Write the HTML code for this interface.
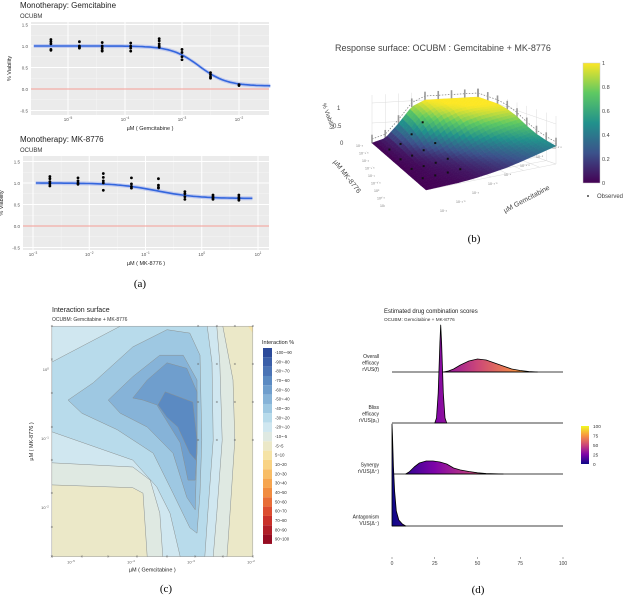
<!DOCTYPE html>
<html><head><meta charset="utf-8"><style>
html,body{margin:0;padding:0;background:#fff;}
svg{display:block;font-family:"Liberation Sans",sans-serif;}
.cap{font-family:"Liberation Serif",serif;font-size:11px;}
</style></head><body>
<svg id="fig" width="632" height="597" viewBox="0 0 632 597">
<defs>
<linearGradient id="viridisBar" x1="0" y1="1" x2="0" y2="0">
<stop offset="0" stop-color="#440154"/><stop offset="0.25" stop-color="#3b528b"/><stop offset="0.5" stop-color="#21918c"/><stop offset="0.75" stop-color="#5ec962"/><stop offset="1" stop-color="#fde725"/>
</linearGradient>
<linearGradient id="plasmaBar" x1="0" y1="1" x2="0" y2="0">
<stop offset="0" stop-color="#0d0887"/><stop offset="0.25" stop-color="#7e03a8"/><stop offset="0.5" stop-color="#cc4778"/><stop offset="0.75" stop-color="#f89540"/><stop offset="1" stop-color="#f0f921"/>
</linearGradient>
<linearGradient id="plasmaX" gradientUnits="userSpaceOnUse" x1="392" y1="0" x2="563" y2="0">
<stop offset="0" stop-color="#0d0887"/><stop offset="0.25" stop-color="#7e03a8"/><stop offset="0.5" stop-color="#cc4778"/><stop offset="0.75" stop-color="#f89540"/><stop offset="1" stop-color="#f0f921"/>
</linearGradient>
</defs>
</svg>
<script>
// ---------- Panel (a) data ----------
const gemDoseLog=[-5.3,-4.8,-4.4,-3.9,-3.4,-3.0,-2.5,-2.0];
const gemViab=[[1.15,1.1,1.05,0.92,0.9],[1.1,1.0,0.97,0.95],[1.08,1.0,0.95,0.9,0.88],[1.07,1.0,0.95,0.88],[1.17,1.12,1.05,1.0,0.97],[0.92,0.85,0.75,0.68],[0.38,0.33,0.28,0.25],[0.1,0.08]];
const gemFit=[1.0,0.07,-2.7,1.8];
const gemTicks=[-5,-4,-3,-2];
const mkDoseLog=[-2.7,-2.2,-1.75,-1.25,-0.77,-0.3,0.2,0.66];
const mkViab=[[1.15,1.1,1.03,0.98,0.93],[1.12,1.05,1.0,0.97],[1.22,1.13,1.05,1.0,0.83],[1.12,0.98,0.92,0.88],[1.1,0.95,0.9,0.88],[0.8,0.75,0.68,0.62],[0.72,0.68,0.65,0.62],[0.72,0.67,0.63,0.6]];
const mkFit=[1.0,0.64,-0.8,1.2];
const mkTicks=[-3,-2,-1,0,1];
const yTicksA=[-0.5,0,0.5,1.0,1.5];
const yTickLabelsA=["-0.5","0.0","0.5","1.0","1.5"];
// ---------- Panel (b) data: surface grid (rows: MK high->low, cols: gem high->low) ----------
const surfRow0=[0,0.01,0.02,0.05,0.1,0.16,0.25,0.35,0.45];
const surfRow1=[0,0.01,0.03,0.06,0.12,0.2,0.3,0.4,0.5];
const surfRow2=[0,0.02,0.04,0.08,0.16,0.26,0.38,0.5,0.58];
const surfRow3=[0,0.02,0.06,0.12,0.24,0.38,0.52,0.62,0.7];
const surfRow4=[0,0.03,0.1,0.2,0.38,0.58,0.72,0.8,0.85];
const surfRow5=[0,0.05,0.18,0.38,0.62,0.82,0.9,0.94,0.95];
const surfRow6=[0,0.07,0.3,0.62,0.85,0.96,1,1,1];
const surfRow7=[0,0.09,0.4,0.78,0.95,1,1,1,1];
const surfRow8=[0,0.1,0.45,0.85,1,1,1,1,1];
const surfGrid=[surfRow0,surfRow1,surfRow2,surfRow3,surfRow4,surfRow5,surfRow6,surfRow7,surfRow8];
const cbTicks=[0,0.2,0.4,0.6,0.8,1];
// ---------- Panel (c) data ----------
const contourLevels=["-100~-90","-90~-80","-80~-70","-70~-60","-60~-50","-50~-40","-40~-30","-30~-20","-20~-10","-10~-5","-5~5","5~10","10~20","20~30","30~40","40~50","50~60","60~70","70~80","80~90","90~100"];
const contourColors=["#2c4a9a","#3a5ea8","#4a73b5","#5b8ac2","#6f9ecd","#86b3d8","#9ec8e2","#b8dbeb","#d0e7f0","#dfe9e2","#ebe8c8","#f5e3a6","#f9d384","#f8bd66","#f6a54f","#f18c40","#e86d37","#dc4d30","#c9312a","#b01e27","#960c22"];
const interactionPolys=[
 {lvl:9,pts:[[-5.32,0.62],[-2.47,0.62],[-2.3,-0.16],[-2.27,-1.03],[-2.35,-2.09],[-2.4,-2.72],[-3.73,-2.72],[-3.8,-1.8],[-3.97,-1.72],[-5.32,-1.68]]},
 {lvl:8,pts:[[-5.32,0.62],[-2.57,0.62],[-2.52,0.09],[-2.48,-1.03],[-2.57,-2.09],[-2.63,-2.72],[-3.47,-2.72],[-3.52,-2.09],[-3.68,-1.61],[-3.97,-1.42],[-5.32,-1.36]]},
 {lvl:7,pts:[[-5.32,0.1],[-4.18,0.62],[-2.73,0.62],[-2.65,0.09],[-2.63,-1.03],[-2.72,-2.09],[-2.77,-2.72],[-3.18,-2.72],[-3.35,-2.09],[-3.57,-1.71],[-3.97,-1.32],[-5.32,-0.91]]},
 {lvl:6,pts:[[-5.05,-0.45],[-4.63,-0.2],[-3.97,0.32],[-3.4,0.57],[-3.02,0.52],[-2.85,0.2],[-2.82,-1.03],[-2.85,-1.8],[-2.9,-2.38],[-3.02,-2.3],[-3.3,-1.8],[-3.63,-1.22],[-4.23,-0.88],[-4.82,-0.64]]},
 {lvl:5,pts:[[-4.38,-0.45],[-3.97,-0.11],[-3.52,0.2],[-3.13,0.2],[-2.9,-0.16],[-2.9,-1.13],[-2.93,-2.04],[-3.07,-1.86],[-3.3,-1.22],[-3.73,-0.84],[-4.18,-0.64]]},
 {lvl:4,pts:[[-3.97,-0.42],[-3.73,-0.16],[-3.4,0.09],[-3.07,0.01],[-2.9,-0.33],[-2.9,-1.22],[-2.93,-1.61],[-3.05,-1.61],[-3.18,-1.07],[-3.57,-0.52],[-3.8,-0.45]]},
 {lvl:3,pts:[[-3.55,-0.52],[-3.43,-0.33],[-2.97,-0.48],[-2.9,-1.03],[-2.92,-1.32],[-3.02,-1.22],[-3.22,-0.84],[-3.4,-0.7]]}
];
const markerGem=[-2.88,-2.57,-2.27,-1.97];
const markerMk=[0.62,0.07,-0.48,-1.03];
const leftColMk=[0.62,0.14,-0.35,-0.84,-1.32,-1.8,-2.29,-2.72];
const bottomRowGem=[-5.32,-4.82,-4.38,-3.9,-3.4,-2.93,-2.47,-1.97];
const cXTicks=[-5,-4,-3,-2];
const cYTicks=[0,-1,-2];
// ---------- Panel (d) data ----------
const ridgeNames=["Overall|efficacy|rVUS(f)","Bliss|efficacy|rVUS(p\u2080)","Synergy|rVUS(\u0394\u207a)","Antagonism|VUS(\u0394\u207b)"];
const overallX=[30,33,36,40,45,50,55,60,65,70,75,80,85];
const overallD=[0,0.01,0.03,0.07,0.11,0.13,0.12,0.09,0.06,0.03,0.015,0.005,0];
const blissX=[25,26,27,28,28.5,29,30,31,32];
const blissD=[0,0.05,0.3,0.8,0.98,0.8,0.3,0.05,0];
const synergyX=[8,10,13,16,20,24,28,32,36,40,45,50,55,60,65];
const synergyD=[0,0.02,0.07,0.11,0.13,0.13,0.12,0.1,0.06,0.04,0.025,0.012,0.005,0.002,0];
const antagX=[0,0.3,0.8,1.5,2.5,4,6,8];
const antagD=[1.02,0.9,0.6,0.35,0.15,0.06,0.02,0];
const dTicks=[0,25,50,75,100];
const plasmaTicks=[0,25,50,75,100];

const NS='http://www.w3.org/2000/svg';
const svg=document.getElementById('fig');
function mk(parent,tag,attrs,text){const e=document.createElementNS(NS,tag);for(const k in attrs)e.setAttribute(k,attrs[k]);if(text!==undefined)e.textContent=text;parent.appendChild(e);return e;}
function grp(name){const g=mk(svg,'g',{});


return g;}
function sup(parent,x,y,base,exp,size,anchor,fill){const t=mk(parent,'text',{x:x,y:y,'font-size':size,'text-anchor':anchor||'middle',fill:fill||'#555'});mk(t,'tspan',{},base);mk(t,'tspan',{'font-size':size*0.7,dy:-size*0.4},exp);return t;}
function hill(p,l){return p[1]+(p[0]-p[1])/(1+Math.pow(10,p[3]*(l-p[2])));}

// ---------- Panel (a) ----------
function doseResponse(name,title,rect,xs,ys,doses,viab,fit,ticks,xTitle,xMin,xMax){
 const g=grp(name);
 const t1=mk(g,'text',{x:20,y:rect.t-14,'font-size':8,fill:'#222'},title);
 
 
 mk(g,'text',{x:20,y:rect.t-4,'font-size':6,fill:'#333'},'OCUBM');
 const bg=mk(g,'rect',{x:rect.l,y:rect.t,width:rect.r-rect.l,height:rect.b-rect.t,fill:'#ebebeb'});
 
 
 for(let i=0;i<yTicksA.length-1;i++){const v=(yTicksA[i]+yTicksA[i+1])/2;mk(g,'line',{x1:rect.l,x2:rect.r,y1:ys(v),y2:ys(v),stroke:'#f6f6f6','stroke-width':0.5});}
 for(let i=0;i<ticks.length-1;i++){const v=(ticks[i]+ticks[i+1])/2;mk(g,'line',{x1:xs(v),x2:xs(v),y1:rect.t,y2:rect.b,stroke:'#f6f6f6','stroke-width':0.5});}
 yTicksA.forEach((v,i)=>{mk(g,'line',{x1:rect.l,x2:rect.r,y1:ys(v),y2:ys(v),stroke:'#fff','stroke-width':1});
  mk(g,'text',{x:rect.l-3,y:ys(v)+2,'font-size':4.5,'text-anchor':'end',fill:'#555'},yTickLabelsA[i]);});
 ticks.forEach(v=>{mk(g,'line',{x1:xs(v),x2:xs(v),y1:rect.t,y2:rect.b,stroke:'#fff','stroke-width':1});
  sup(g,xs(v),rect.b+6,'10',String(v).replace('-','\u2212'),4.5);});
 const zl=mk(g,'line',{x1:rect.l,x2:rect.r,y1:ys(0),y2:ys(0),stroke:'#f07b72','stroke-width':0.8});
 
 
 const pts=[];
 for(let l=xMin;l<=xMax+1e-9;l+=0.05){pts.push([xs(l),ys(hill(fit,l))]);}
 const d='M'+pts.map(p=>p[0].toFixed(1)+','+p[1].toFixed(1)).join('L');
 const bd='M'+pts.map(p=>p[0].toFixed(1)+','+(p[1]-2).toFixed(1)).join('L')+'L'+pts.slice().reverse().map(p=>p[0].toFixed(1)+','+(p[1]+2).toFixed(1)).join('L')+'Z';
 mk(g,'path',{d:bd,fill:'#a9b6ee',opacity:0.6});
 const c=mk(g,'path',{d:d,fill:'none',stroke:'#3366dd','stroke-width':1.6});
 
 
 doses.forEach((dl,i)=>viab[i].forEach(v=>{const p=mk(g,'circle',{cx:xs(dl),cy:ys(v),r:1.4,fill:'#000'});
  
  }));
 const yt=mk(g,'text',{x:0,y:0,'font-size':5.5,fill:'#222','text-anchor':'middle',transform:`translate(${rect.l-20},${(rect.t+rect.b)/2}) rotate(-90)`},'% Viability');
 
 
 const xt=mk(g,'text',{x:(rect.l+rect.r)/2,y:rect.b+15,'font-size':5.5,fill:'#222','text-anchor':'middle'},xTitle);
 
 
}
doseResponse('gemcitabine-monotherapy','Monotherapy: Gemcitabine',{l:31,r:269,t:22,b:115},l=>68+(l+5)*57,v=>89-v*43,gemDoseLog,gemViab,gemFit,gemTicks,'\u00b5M  ( Gemcitabine )',-5.6,-1.45);
doseResponse('mk8776-monotherapy','Monotherapy: MK-8776',{l:23,r:269,t:156,b:250},l=>33+(l+3)*56.25,v=>226-v*43,mkDoseLog,mkViab,mkFit,mkTicks,'\u00b5M  ( MK-8776 )',-2.95,0.9);
mk(svg,'text',{x:140,y:287,'text-anchor':'middle',class:'cap'},'(a)');

// ---------- Panel (b) ----------
(function(){
 const g=grp('response-surface-3d');
 const tt=mk(g,'text',{x:335,y:51,'font-size':9,fill:'#444'},'Response surface: OCUBM : Gemcitabine + MK-8776');
 
 
 const F=[426,190],L=[372,143],R=[556,164],B=[478,137],H=40;
 function P(s,t,z){const x=(1-s)*(1-t)*F[0]+s*(1-t)*L[0]+(1-s)*t*R[0]+s*t*B[0];const y=(1-s)*(1-t)*F[1]+s*(1-t)*L[1]+(1-s)*t*R[1]+s*t*B[1];return [x,y-z*H];}
 const n=surfGrid.length-1;
 function val(s,t){s=Math.max(0,Math.min(1,s));t=Math.max(0,Math.min(1,t));const fs=s*n,ft=t*n;const i=Math.max(0,Math.min(Math.floor(fs),n-1)),j=Math.max(0,Math.min(Math.floor(ft),n-1));const a=fs-i,b=ft-j;
  return surfGrid[i][j]*(1-a)*(1-b)+surfGrid[i+1][j]*a*(1-b)+surfGrid[i][j+1]*(1-a)*b+surfGrid[i+1][j+1]*a*b;}
 function vir(v){const st=[[68,1,84],[59,82,139],[33,145,140],[94,201,98],[253,231,37]];const f=Math.max(0,Math.min(1,v))*4;const i=Math.min(Math.floor(f),3);const r=f-i;const c=st[i].map((a,k)=>Math.round(a+(st[i+1][k]-a)*r));return `rgb(${c})`;}
 const gl={stroke:'#dcdcdc','stroke-width':0.5};
 for(let z=0;z<=1;z+=0.5){let a=P(1,0,z),b=P(1,1,z),c=P(0,1,z);mk(g,'polyline',Object.assign({points:`${a} ${b} ${c}`,fill:'none'},gl));}
 for(let k=0;k<=8;k++){const u=k/8;let a=P(1,u,0),b=P(1,u,1.2);mk(g,'line',Object.assign({x1:a[0],y1:a[1],x2:b[0],y2:b[1]},gl));a=P(u,1,0);b=P(u,1,1.2);mk(g,'line',Object.assign({x1:a[0],y1:a[1],x2:b[0],y2:b[1]},gl));
  a=P(u,0,0);b=P(u,1,0);mk(g,'line',Object.assign({x1:a[0],y1:a[1],x2:b[0],y2:b[1]},gl));a=P(0,u,0);b=P(1,u,0);mk(g,'line',Object.assign({x1:a[0],y1:a[1],x2:b[0],y2:b[1]},gl));}
 let dl=[];for(let k=0;k<=40;k++){const t=k/40;dl.push(P(1,t,val(1,t)+0.1).join(','));}
 mk(g,'polyline',{points:dl.join(' '),fill:'none',stroke:'#777','stroke-width':0.7,'stroke-dasharray':'1.5,1.5'});
 dl=[];for(let k=40;k>=0;k--){const s=k/40;dl.push(P(s,1,val(s,1)+0.1).join(','));}
 mk(g,'polyline',{points:dl.join(' '),fill:'none',stroke:'#777','stroke-width':0.7,'stroke-dasharray':'1.5,1.5'});
 for(let k=0;k<=n;k++){const t=k/n;for(let j=0;j<3;j++){const p=P(1,t,val(1,t)+0.1+0.07*(j-1));mk(g,'rect',{x:p[0]-0.8,y:p[1]-1.5,width:1.6,height:3,fill:'#999'});}
  const s=k/n;for(let j=0;j<3;j++){const p=P(s,1,val(s,1)+0.1+0.07*(j-1));mk(g,'rect',{x:p[0]-0.8,y:p[1]-1.5,width:1.6,height:3,fill:'#999'});}}
 const N=28,quads=[];
 for(let i=0;i<N;i++)for(let j=0;j<N;j++){const s0=i/N,s1=(i+1)/N,t0=j/N,t1=(j+1)/N;quads.push({s0,s1,t0,t1,d:s0+t0});}
 quads.sort((a,b)=>b.d-a.d);
 const sg=mk(g,'g',{});
 
 
 quads.forEach(q=>{const c=[[q.s0,q.t0],[q.s1,q.t0],[q.s1,q.t1],[q.s0,q.t1]];const pts=c.map(([s,t])=>P(s,t,val(s,t)).map(v=>v.toFixed(1)).join(',')).join(' ');const v=val((q.s0+q.s1)/2,(q.t0+q.t1)/2);mk(sg,'polygon',{points:pts,fill:vir(v),stroke:vir(v),'stroke-width':0.4});});
 for(let i=1;i<=4;i++)for(let j=0;j<4;j++){const s=i*0.2,t=0.06+j*0.1;const p=P(s,t,val(s,t)+0.02);const c=mk(g,'rect',{x:p[0]-1,y:p[1]-1,width:2,height:2,fill:'#111'});
  
  }
 mk(g,'text',{x:337,y:110,'font-size':6,fill:'#444'},'1');
 mk(g,'text',{x:333,y:128,'font-size':6,fill:'#444'},'0.5');
 mk(g,'text',{x:340,y:145,'font-size':6,fill:'#444'},'0');
 mk(g,'text',{x:0,y:0,'font-size':6,fill:'#444',transform:'translate(322,104) rotate(70)'},'% Viability');
 mk(g,'text',{x:0,y:0,'font-size':7,fill:'#444',transform:'translate(333,162) rotate(52)'},'\u00b5M MK-8776');
 mk(g,'text',{x:0,y:0,'font-size':7,fill:'#444',transform:'translate(505,213) rotate(-28)'},'\u00b5M Gemcitabine');
 const ml=['10\u207b\u00b3','10\u207b\u00b2\u02d9\u2075','10\u207b\u00b2','10\u207b\u00b9\u02d9\u2075','10\u207b\u00b9','10\u207b\u2070\u02d9\u2075','10\u2070','10\u2070\u02d9\u2075','10\u00b9'];
 ml.forEach((t,k)=>mk(g,'text',{x:356+k*3,y:147+k*7.5,'font-size':3.5,fill:'#777'},t));
 const gl2=['10\u207b\u00b2','10\u207b\u00b2\u02d9\u2075','10\u207b\u00b3','10\u207b\u00b3\u02d9\u2075','10\u207b\u2074','10\u207b\u2074\u02d9\u2075','10\u207b\u2075','10\u207b\u2075\u02d9\u2075'];
 gl2.forEach((t,k)=>mk(g,'text',{x:440+k*16,y:212-k*9,'font-size':3.5,fill:'#777'},t));
 const cb=mk(g,'rect',{x:583,y:63,width:17,height:120,fill:'url(#viridisBar)',stroke:'#ccc','stroke-width':0.5});
 
 
 cbTicks.forEach(v=>mk(g,'text',{x:602,y:183-v*120+2,'font-size':5.5,fill:'#444'},String(v)));
 mk(g,'circle',{cx:588,cy:196,r:0.9,fill:'#111'});
 const lg=mk(g,'text',{x:597,y:198,'font-size':6,fill:'#444'},'Observed');
 
 
 mk(g,'text',{x:474,y:242,'text-anchor':'middle',class:'cap'},'(b)');
})();

// ---------- Panel (c) ----------
(function(){
 const g=grp('interaction-surface');
 const xs=l=>71+(l+5)*60, ys=l=>369-l*69;
 mk(g,'text',{x:52,y:312,'font-size':7,fill:'#222'},'Interaction surface');
 mk(g,'text',{x:52,y:321,'font-size':5,fill:'#333'},'OCUBM: Gemcitabine + MK-8776');
 const pl={l:xs(-5.32),r:xs(-1.97),t:ys(0.62),b:ys(-2.72)};
 const cl=mk(g,'clipPath',{id:'cclip'});mk(cl,'rect',{x:pl.l,y:pl.t,width:pl.r-pl.l,height:pl.b-pl.t});
 const pg=mk(g,'g',{'clip-path':'url(#cclip)'});
 
 
 mk(pg,'rect',{x:pl.l,y:pl.t,width:pl.r-pl.l,height:pl.b-pl.t,fill:contourColors[10]});
 interactionPolys.forEach(p=>{const e=mk(pg,'polygon',{points:p.pts.map(([a,b])=>xs(a).toFixed(1)+','+ys(b).toFixed(1)).join(' '),fill:contourColors[p.lvl],stroke:'#8a9090','stroke-width':0.5,'stroke-linejoin':'round'});
  
  });
 mk(pg,'polygon',{points:`${xs(-2.05)},${ys(0.62)} ${xs(-1.97)},${ys(0.62)} ${xs(-1.97)},${ys(0.52)}`,fill:contourColors[11]});
 mk(g,'rect',{x:pl.l,y:pl.t,width:pl.r-pl.l,height:pl.b-pl.t,fill:'none',stroke:'#999','stroke-width':0.5});
 function xm(x,y){const e=mk(g,'text',{x:x,y:y+1.5,'font-size':4.5,'text-anchor':'middle',fill:'#666'},'\u00d7');
  
  }
 markerGem.forEach(a=>markerMk.forEach(b=>xm(xs(a),ys(b))));
 leftColMk.forEach(b=>xm(xs(-5.32),ys(b)));
 bottomRowGem.forEach(a=>xm(xs(a),ys(-2.72)));
 cXTicks.forEach(v=>sup(g,xs(v),ys(-2.72)+7,'10',String(v).replace('-','\u2212'),4));
 cYTicks.forEach(v=>sup(g,pl.l-3,ys(v)+2,'10',String(v).replace('-','\u2212'),4,'end'));
 mk(g,'text',{x:(pl.l+pl.r)/2,y:ys(-2.72)+15,'font-size':5.5,'text-anchor':'middle',fill:'#222'},'\u00b5M  ( Gemcitabine )');
 mk(g,'text',{x:0,y:0,'font-size':5.5,'text-anchor':'middle',fill:'#222',transform:`translate(33,${(pl.t+pl.b)/2}) rotate(-90)`},'\u00b5M  ( MK-8776 )');
 mk(g,'text',{x:262,y:344,'font-size':5.5,fill:'#222'},'Interaction %');
 contourLevels.forEach((lab,i)=>{const r=mk(g,'rect',{x:263,y:348+i*9.33,width:9,height:9.33,fill:contourColors[i]});
  
  
  mk(g,'text',{x:275,y:348+i*9.33+6,'font-size':4.2,fill:'#333'},lab);});
 mk(svg,'text',{x:166,y:592,'text-anchor':'middle',class:'cap'},'(c)');
})();

// ---------- Panel (d) ----------
(function(){
 const g=grp('drug-combination-scores');
 const xs=v=>392+v*1.71;
 const base=[372,423,474,526];
 const hs=100;
 mk(g,'text',{x:384,y:313,'font-size':6,fill:'#222'},'Estimated drug combination scores');
 mk(g,'text',{x:384,y:321,'font-size':4.7,fill:'#333'},'OCUBM: Gemcitabine + MK-8776');
 const series=[[overallX,overallD],[blissX,blissD],[synergyX,synergyD],[antagX,antagD]];
 series.forEach(([X,D],i)=>{
  const b=base[i];
  let d=`M${xs(X[0])},${b}`;X.forEach((x,k)=>{d+=`L${xs(x).toFixed(1)},${(b-D[k]*hs).toFixed(1)}`;});d+=`L${xs(X[X.length-1])},${b}Z`;
  const r=mk(g,'path',{d:d,fill:'url(#plasmaX)',stroke:'#000','stroke-width':0.8,'stroke-linejoin':'round'});
  
  
  const bl=mk(g,'line',{x1:xs(0),x2:xs(100),y1:b,y2:b,stroke:'#000','stroke-width':0.8});
  
  
  const lines=ridgeNames[i].split('|');
  lines.forEach((ln,k)=>mk(g,'text',{x:379,y:b-(lines.length-1-k)*6.5-1,'font-size':5,'text-anchor':'end',fill:'#222'},ln));
 });
 dTicks.forEach(v=>{mk(g,'line',{x1:xs(v),x2:xs(v),y1:557,y2:559,stroke:'#555','stroke-width':0.5});mk(g,'text',{x:xs(v),y:565,'font-size':5,'text-anchor':'middle',fill:'#444'},String(v));});
 const cb=mk(g,'rect',{x:581,y:426,width:8,height:38,fill:'url(#plasmaBar)'});
 
 
 plasmaTicks.forEach(v=>mk(g,'text',{x:593,y:464-v*0.38+2,'font-size':4.7,fill:'#333'},String(v)));
 mk(svg,'text',{x:478,y:593,'text-anchor':'middle',class:'cap'},'(d)');
})();
</script>
</body></html>
